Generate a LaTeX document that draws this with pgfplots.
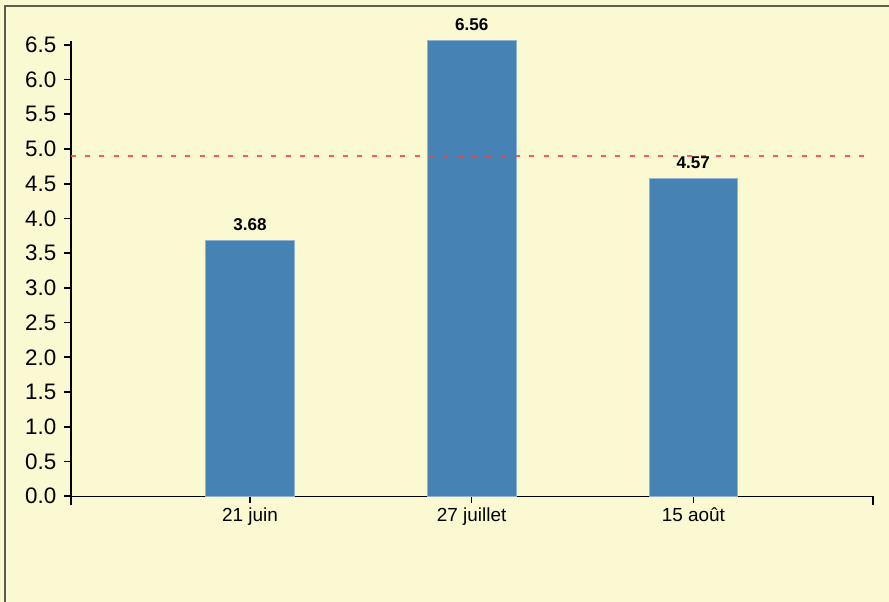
\documentclass[border=0pt]{standalone}
\usepackage{fontspec}
\setmainfont{Liberation Sans}
\usepackage{pgfplots}
\pgfplotsset{compat=1.18}
\definecolor{bgyellow}{HTML}{FAF9D2}
\definecolor{barblue}{HTML}{4682B4}
\definecolor{baredge}{HTML}{90B4D0}
\definecolor{avgred}{HTML}{FF4040}
\definecolor{framegray}{HTML}{5E5E50}
\begin{document}
\begin{tikzpicture}
\path[use as bounding box, fill=bgyellow] (0,0) rectangle (666.75pt,451.5pt);
\draw[framegray, line width=1.5pt] (3.75pt,-2pt) -- (3.75pt,447pt) -- (670pt,447pt);
\begin{axis}[
    at={(53.0pt,79.3pt)}, anchor=south west,
    scale only axis, width=601.5pt, height=341.7pt,
    xmin=-0.809, xmax=2.809,
    ymin=0, ymax=6.56,
    clip=false,
    axis lines=left,
    axis line style={-, black},
    x axis line style={line width=1.1pt},
    y axis line style={line width=1.6pt},
    xtick={0,1,2},
    xticklabels={21 juin, 27 juillet, 15 août},
    ytick={0,0.5,1,1.5,2,2.5,3,3.5,4,4.5,5,5.5,6,6.5},
    tick align=outside,
    major tick length=5pt,
    tick style={black, line width=1pt},
    y tick style={line width=1.3pt},
    /pgf/number format/assume math mode=true,
    yticklabel style={font=\fontsize{16.8}{19}\selectfont, xshift=-2.25pt, /pgf/number format/fixed, /pgf/number format/fixed zerofill, /pgf/number format/precision=1},
    xticklabel style={font=\fontsize{14.2}{16}\selectfont},
]
\addplot[ybar, bar width=0.4, fill=barblue, draw=baredge, line width=0.6pt,
    nodes near coords,
    nodes near coords style={font=\bfseries\fontsize{12.8}{14}\selectfont, anchor=south, inner sep=0pt, yshift=7.5pt,
        /pgf/number format/fixed, /pgf/number format/fixed zerofill, /pgf/number format/precision=2}]
    coordinates {(0,3.68) (1,6.56) (2,4.57)};
\addplot[avgred, opacity=0.85, line width=1.6pt, dash pattern=on 3.75pt off 7pt]
    coordinates {(-0.809,4.9) (2.809,4.9)};
\draw[black, line width=1.6pt] (axis cs:-0.809,0) -- ++(0pt,-6.5pt);
\draw[black, line width=1.6pt] (axis cs:2.809,0) -- ++(0pt,-6.5pt);
\end{axis}
\end{tikzpicture}
\end{document}
